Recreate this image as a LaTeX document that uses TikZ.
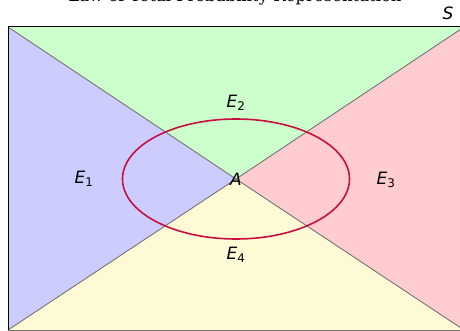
\documentclass[tikz,border=0pt]{standalone}
\usepackage{fontspec}
\setmainfont{DejaVu Sans}
\newfontfamily\titlefont{DejaVu Serif}
\definecolor{partblue}{RGB}{204,204,255}
\definecolor{partgreen}{RGB}{204,255,204}
\definecolor{partred}{RGB}{255,204,208}
\definecolor{partyellow}{RGB}{255,250,214}
\definecolor{eventred}{RGB}{200,16,64}
\begin{document}
\begin{tikzpicture}[
    x=1pt, y=-1pt,
    part/.style={draw=black!55, line width=0.9pt},
    event/.style={draw=eventred, line width=1.6pt},
    label/.style={font=\fontsize{17}{20}\selectfont, inner sep=0pt}
]
    \useasboundingbox (0,0) rectangle (460,331);

    % Corners of the sample space
    \coordinate (TL) at (8,27);
    \coordinate (TR) at (464,27);
    \coordinate (BR) at (464,330);
    \coordinate (BL) at (8,330);
    \node[label] (A) at (236,179) {\itshape A};

    % Partition of S
    \fill[partblue] (TL) -- (A.center) -- (BL) -- cycle;
    \fill[partgreen] (TL) -- (TR) -- (A.center) -- cycle;
    \fill[partred] (TR) -- (BR) -- (A.center) -- cycle;
    \fill[partyellow] (BL) -- (BR) -- (A.center) -- cycle;
    \draw[part] (TL) -- (A.center) -- (BR);
    \draw[part] (BL) -- (A.center) -- (TR);
    \draw[part] (BL) -- (BR);
    \draw[black, line width=1pt] (BL) -- (TL) -- (TR);

    % Event A
    \draw[event] (A.center) ellipse [x radius=113.5, y radius=60];
    \node[label] at (A) {\itshape A};

    % Labels
    \node[label] (E1) at (84,179) {\itshape E\textsubscript{\upshape 1}};
    \node[label] (E2) at (236,103) {\itshape E\textsubscript{\upshape 2}};
    \node[label] (E3) at (386,180) {\itshape E\textsubscript{\upshape 3}};
    \node[label] (E4) at (236,255) {\itshape E\textsubscript{\upshape 4}};
    \node[label, anchor=base] (S) at (448,20) {\itshape S};
    \node[font=\titlefont\fontsize{16.5}{20}\selectfont, anchor=base] (title) at (235,2) {Law of Total Probability Representation};
\end{tikzpicture}
\end{document}
